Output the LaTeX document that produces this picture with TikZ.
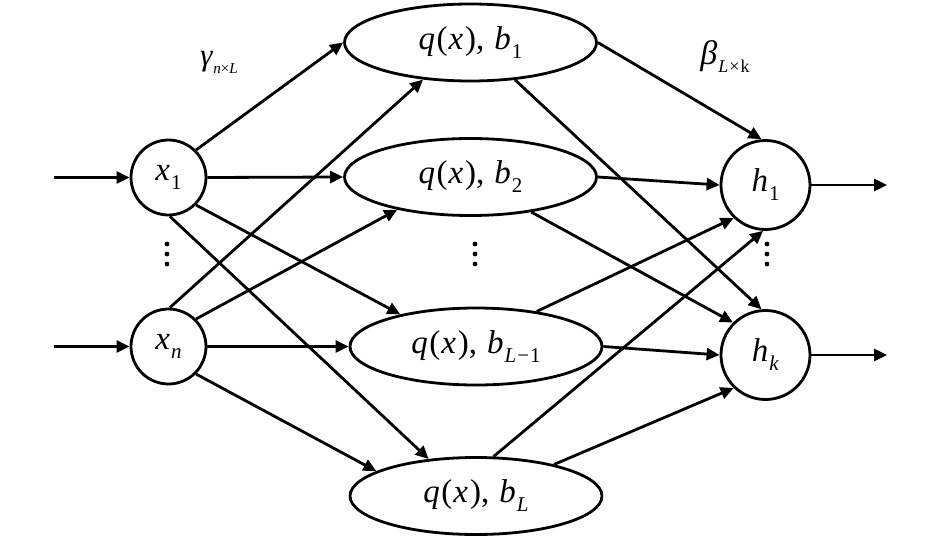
\documentclass[tikz,border=0pt]{standalone}
\usepackage{fontspec}
\setmainfont{Liberation Serif}
\newfontfamily\tnr{Liberation Serif}
\usetikzlibrary{arrows.meta,shapes.geometric}
\newcommand{\mysub}[1]{\raisebox{-9pt}{\fontsize{21}{21}\selectfont #1}}
\newcommand{\qx}{\textit{q}\kern1.5pt(\kern1pt\textit{x}\kern2pt),\kern10pt\textit{b}\kern1pt}
\begin{document}
\begin{tikzpicture}[x=1pt,y=-1pt,
  every node/.style={inner sep=0pt},
  mainfont/.style={font=\tnr\fontsize{33}{38}\selectfont},
  neuron/.style={circle,draw,line width=2.8pt,minimum size=75pt,mainfont},
  outneuron/.style={neuron,minimum size=89pt},
  hidden/.style={ellipse,draw,line width=2.8pt,minimum width=252pt,minimum height=77pt,mainfont},
  conn/.style={line width=2.8pt,-{Triangle[length=13pt,width=12pt]}},
  dotmark/.style={fill=black}
]
\useasboundingbox (0,0) rectangle (945,546);

\node[neuron] (x1) at (168.5,177.5) {\textit{x}\kern1pt\mysub{1}};
\node[neuron] (xn) at (168.5,346.5) {\textit{x}\kern1pt\mysub{\textit{n}}};
\node[hidden] (b1) at (470.5,42.5) {\qx\mysub{1}};
\node[hidden] (b2) at (470.5,177) {\qx\mysub{2}};
\node[hidden] (bL1) at (476,346.5) {\qx\mysub{\textit{L}\kern1pt−\kern1pt1}};
\node[hidden] (bL) at (476,496) {\qx\mysub{\textit{L}}};
\node[outneuron] (h1) at (765.5,185) {\textit{h}\kern1pt\mysub{1}};
\node[outneuron] (hk) at (765.5,355) {\textit{h}\kern1pt\mysub{\textit{k}}};

\coordinate (in1) at (54,177.5);
\coordinate (inn) at (54,346.5);
\coordinate (out1) at (887,185);
\coordinate (outk) at (887,355);

\node (gam) at (219,62) {\tnr\fontsize{31}{34}\selectfont\textit{γ}\raisebox{-8pt}{\fontsize{15}{15}\selectfont\textit{n}×\textit{L}}};
\node (bet) at (725,57) {\tnr\fontsize{34}{38}\selectfont\textit{β}\kern1pt\raisebox{-8pt}{\fontsize{18}{18}\selectfont\textit{L}\kern1pt×\kern1pt k}};

\draw[conn] (in1) -- (x1);
\draw[conn] (inn) -- (xn);
\draw[conn] (x1.45) -- (b1.west);
\draw[conn] (x1.east) -- (b2.west);
\draw[conn] (x1.-45) -- (bL1.157);
\draw[conn] (x1.-88) -- (bL.142);
\draw[conn] (xn.88) -- (b1.218);
\draw[conn] (xn.45) -- (b2.204);
\draw[conn] (xn.east) -- (bL1.west);
\draw[conn] (xn.-45) -- (bL.166);
\draw[conn] (b1.east) -- (h1.95);
\draw[conn] (b1.-40) -- (hk.95);
\draw[conn] (b2.east) -- (h1.west);
\draw[conn] (b2.-30) -- (hk.135);
\draw[conn] (bL1.30) -- (h1.226);
\draw[conn] (bL1.east) -- (hk.west);
\draw[conn] (bL.66) -- (h1.-93);
\draw[conn] (bL.22) -- (hk.226);
\draw[conn] (h1) -- (out1);
\draw[conn] (hk) -- (outk);

\foreach \px in {167,475,767}{
  \foreach \py in {244,254,264}{
    \fill[dotmark] (\px,\py) circle (2.4pt);
  }
}
\end{tikzpicture}
\end{document}
